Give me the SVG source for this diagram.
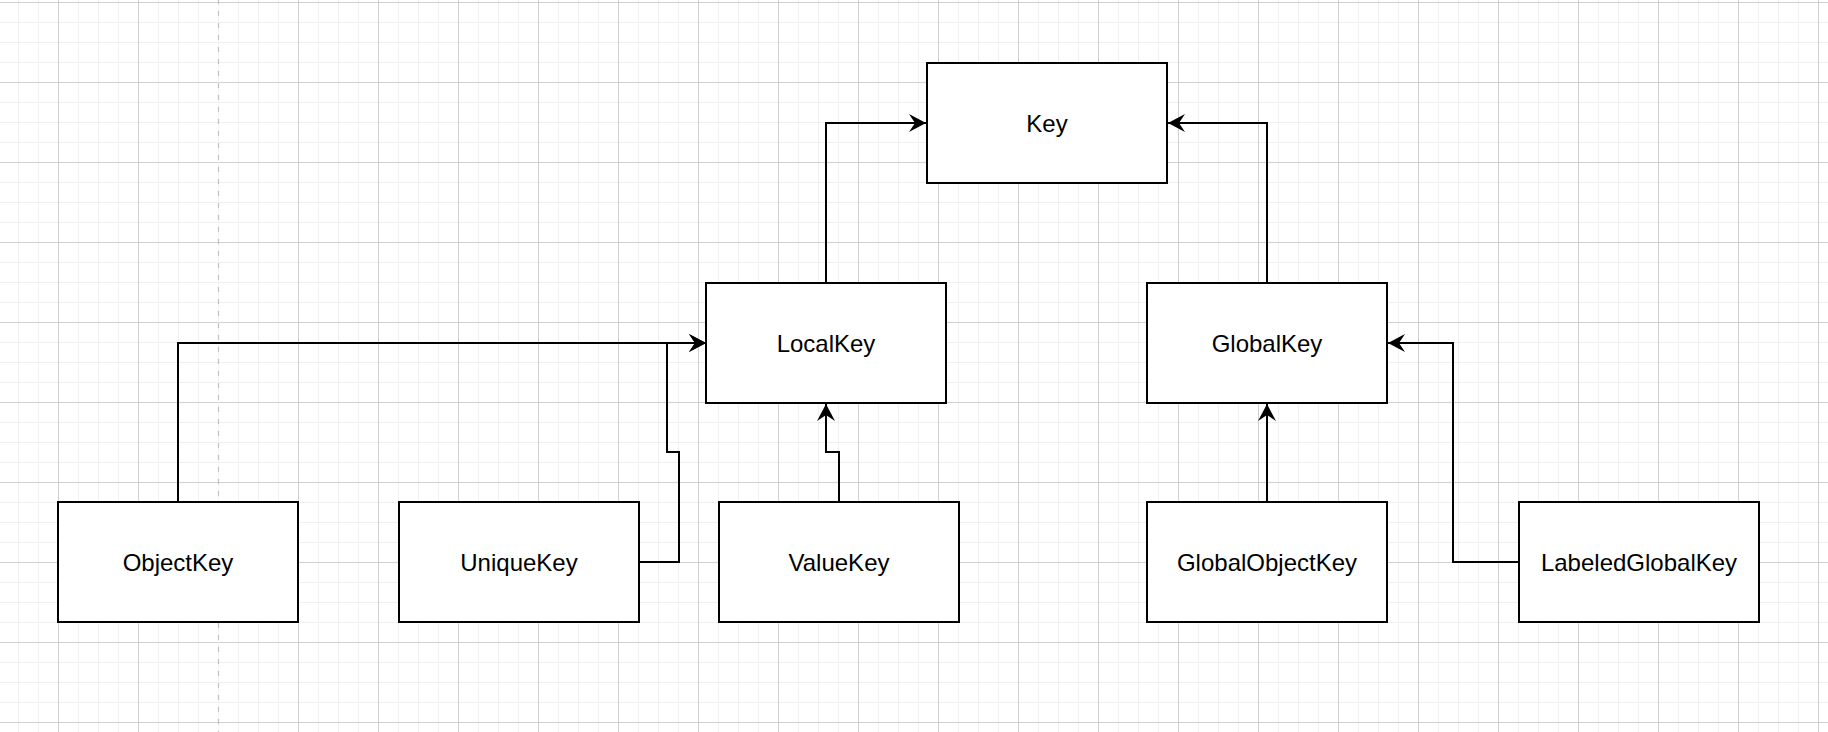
<svg xmlns="http://www.w3.org/2000/svg" width="1828" height="732" viewBox="0 0 1828 732">
<style>
.node rect{fill:#ffffff;stroke:#000000;stroke-width:2}
.node text{font-family:"Liberation Sans",Arial,Helvetica,sans-serif;font-size:24px;fill:#000000;text-anchor:middle}
.edge{fill:none;stroke:#000000;stroke-width:2;marker-end:url(#arrow)}
</style>
<defs>
<pattern id="minor" patternUnits="userSpaceOnUse" x="18" y="2" width="20" height="20">
<path d="M0.5,0 V20 M0,0.5 H20" stroke="#f0f0f0" stroke-width="1" fill="none"/>
</pattern>
<pattern id="major" patternUnits="userSpaceOnUse" x="58" y="2" width="80" height="80">
<path d="M0.5,0 V80 M0,0.5 H80" stroke="#d0d0d0" stroke-width="1" fill="none"/>
</pattern>
<marker id="arrow" markerUnits="userSpaceOnUse" viewBox="0 0 17 18" refX="17" refY="9" markerWidth="17" markerHeight="18" orient="auto">
<path d="M0,0 L17,9 L0,18 L6,9 Z" fill="#000000"/>
</marker>
</defs>
<rect width="1828" height="732" fill="#ffffff"/>
<rect width="1828" height="732" fill="url(#minor)"/>
<rect width="1828" height="732" fill="url(#major)"/>
<line x1="218.5" y1="0" x2="218.5" y2="732" stroke="#f4f4f4" stroke-width="1"/>
<line x1="218.5" y1="0" x2="218.5" y2="732" stroke="#c0c0c0" stroke-width="1.2" stroke-dasharray="5 7" stroke-dashoffset="1"/>
<g id="connectors">
<path class="edge" d="M826,283 V123 H926"/>
<path class="edge" d="M1267,283 V123 H1168"/>
<path class="edge" d="M178,502 V343 H706"/>
<path class="edge" d="M639,562 H679 V452 H667 V343 H706"/>
<path class="edge" d="M839,502 V452 H826 V404"/>
<path class="edge" d="M1267,502 V404"/>
<path class="edge" d="M1519,562 H1453 V343 H1388"/>
</g>
<g id="node-key" class="node"><rect x="927" y="63" width="240" height="120"/><text x="1047" y="131.5">Key</text></g>
<g id="node-localkey" class="node"><rect x="706" y="283" width="240" height="120"/><text x="826" y="351.5">LocalKey</text></g>
<g id="node-globalkey" class="node"><rect x="1147" y="283" width="240" height="120"/><text x="1267" y="351.5">GlobalKey</text></g>
<g id="node-objectkey" class="node"><rect x="58" y="502" width="240" height="120"/><text x="178" y="570.5">ObjectKey</text></g>
<g id="node-uniquekey" class="node"><rect x="399" y="502" width="240" height="120"/><text x="519" y="570.5">UniqueKey</text></g>
<g id="node-valuekey" class="node"><rect x="719" y="502" width="240" height="120"/><text x="839" y="570.5">ValueKey</text></g>
<g id="node-globalobjectkey" class="node"><rect x="1147" y="502" width="240" height="120"/><text x="1267" y="570.5">GlobalObjectKey</text></g>
<g id="node-labeledglobalkey" class="node"><rect x="1519" y="502" width="240" height="120"/><text x="1639" y="570.5">LabeledGlobalKey</text></g>
</svg>
